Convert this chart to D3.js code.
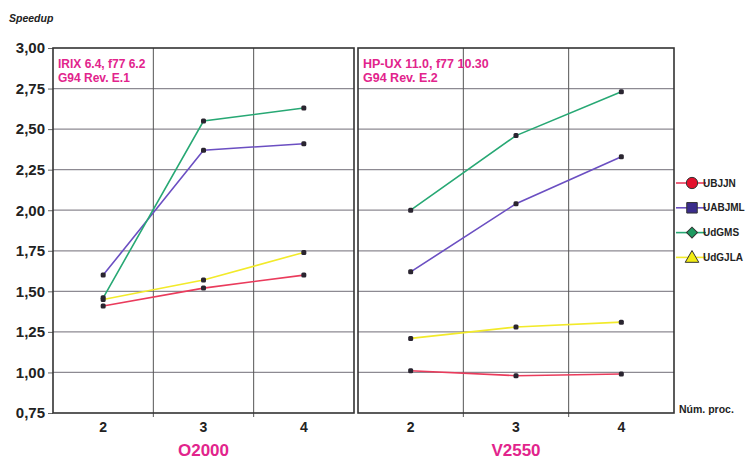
<!DOCTYPE html>
<html>
<head>
<meta charset="utf-8">
<script src="https://cdn.jsdelivr.net/npm/d3@7"></script>
<style>
  body { margin: 0; background: #fff; }
  svg { display: block; font-family: "Liberation Sans", Arial, sans-serif; }
</style>
</head>
<body>
<svg id="chart" width="747" height="459"></svg>
<script>
// ##### Data

// Number of processors (x categories)
var procs = [2, 3, 4];

// The two machines (one panel each)
var machines = ['O2000', 'V2550'];

// The series names (legend order)
var seriesNames = ['UBJJN', 'UABJML', 'UdGMS', 'UdGJLA'];

// O2000 speedups
var o2000UBJJN  = [1.41, 1.52, 1.60];
var o2000UABJML = [1.60, 2.37, 2.41];
var o2000UdGMS  = [1.46, 2.55, 2.63];
var o2000UdGJLA = [1.45, 1.57, 1.74];

// V2550 speedups
var v2550UBJJN  = [1.01, 0.98, 0.99];
var v2550UABJML = [1.62, 2.04, 2.33];
var v2550UdGMS  = [2.00, 2.46, 2.73];
var v2550UdGJLA = [1.21, 1.28, 1.31];

// Y axis tick values
var yTicks = [0.75, 1.00, 1.25, 1.50, 1.75, 2.00, 2.25, 2.50, 2.75, 3.00];

// Notes printed in the corner of each panel
var o2000Notes = ['IRIX 6.4, f77 6.2', 'G94 Rev. E.1'];
var v2550Notes = ['HP-UX 11.0, f77 10.30', 'G94 Rev. E.2'];


// ##### Styles
var lineColours = { UBJJN: '#ea3b5c', UABJML: '#6b4fc2', UdGMS: '#27a874', UdGJLA: '#f2ea2a' };
var markerFill = { UBJJN: '#e3102c', UABJML: '#3b2c8c', UdGMS: '#1d9a60', UdGJLA: '#f2ec12' };
var magenta = '#e2248c';

// Build the panels from the arrays above
var panels = [
  { name: machines[0], range: [53, 354], notes: o2000Notes, noteSize: 12,
    values: [o2000UBJJN, o2000UABJML, o2000UdGMS, o2000UdGJLA] },
  { name: machines[1], range: [358, 674], notes: v2550Notes, noteSize: 12.5,
    values: [v2550UBJJN, v2550UABJML, v2550UdGMS, v2550UdGJLA] }
];

var svg = d3.select('#chart');

// Shared y scale
var y = d3.scaleLinear().domain([0.75, 3]).range([413, 48]);

// ##### Y axis on the left
var yAxis = d3.axisLeft(y)
  .tickValues(yTicks)
  .tickSize(5)
  .tickPadding(3)
  .tickFormat(function(d) { return d3.format('.2f')(d).replace('.', ','); });

var yAxisG = svg.append('g')
  .attr('transform', 'translate(53,0)')
  .call(yAxis);
yAxisG.select('.domain').remove();
yAxisG.selectAll('line').attr('stroke', '#666');
yAxisG.selectAll('text')
  .attr('fill', '#222')
  .style('font-size', '15px')
  .style('font-weight', 'bold');

svg.append('text')
  .attr('x', 9).attr('y', 22)
  .style('font-size', '10.5px')
  .style('font-weight', 'bold')
  .style('font-style', 'italic')
  .attr('fill', '#222')
  .text('Speedup');

// ##### Draw each panel
panels.forEach(function(panel) {
  var x = d3.scaleBand().domain(procs).range(panel.range);
  var cx = function(d, i) { return x(procs[i]) + x.bandwidth() / 2; };
  var g = svg.append('g');

  // Horizontal grid lines
  g.selectAll('line.hgrid')
    .data(yTicks.slice(1, -1))
    .enter().append('line')
    .attr('class', 'hgrid')
    .attr('x1', panel.range[0]).attr('x2', panel.range[1])
    .attr('y1', y).attr('y2', y)
    .attr('stroke', '#8d8a92')
    .attr('stroke-width', 1.2);

  // Vertical grid lines between the categories
  g.selectAll('line.vgrid')
    .data(procs.slice(1))
    .enter().append('line')
    .attr('class', 'vgrid')
    .attr('x1', function(d) { return x(d); }).attr('x2', function(d) { return x(d); })
    .attr('y1', y(3)).attr('y2', y(0.75) + 4)
    .attr('stroke', '#555')
    .attr('stroke-width', 1);

  // Panel border
  g.append('rect')
    .attr('x', panel.range[0]).attr('y', y(3))
    .attr('width', panel.range[1] - panel.range[0])
    .attr('height', y(0.75) - y(3))
    .attr('fill', 'none')
    .attr('stroke', '#333')
    .attr('stroke-width', 1.6);

  // X axis labels
  var xAxis = d3.axisBottom(x).tickSize(0).tickPadding(9);
  var xAxisG = g.append('g')
    .attr('transform', 'translate(0,' + y(0.75) + ')')
    .call(xAxis);
  xAxisG.select('.domain').remove();
  xAxisG.selectAll('text')
    .attr('fill', '#222')
    .style('font-size', '14px')
    .style('font-weight', 'bold');

  // Machine name
  g.append('text')
    .attr('x', (panel.range[0] + panel.range[1]) / 2)
    .attr('y', 456)
    .attr('text-anchor', 'middle')
    .attr('fill', magenta)
    .style('font-size', '17px')
    .style('font-weight', 'bold')
    .text(panel.name);

  // Corner notes
  g.selectAll('text.note')
    .data(panel.notes)
    .enter().append('text')
    .attr('class', 'note')
    .attr('x', panel.range[0] + 5)
    .attr('y', function(d, i) { return 68 + i * 14; })
    .attr('fill', magenta)
    .style('font-size', panel.noteSize + 'px')
    .style('font-weight', 'bold')
    .text(function(d) { return d; });

  // Lines and point markers
  var line = d3.line().x(cx).y(function(d) { return y(d); });
  panel.values.forEach(function(vals, s) {
    var name = seriesNames[s];
    g.append('path')
      .datum(vals)
      .attr('d', line)
      .attr('fill', 'none')
      .attr('stroke', lineColours[name])
      .attr('stroke-width', 1.6);

    g.selectAll('rect.pt' + s)
      .data(vals)
      .enter().append('rect')
      .attr('class', 'pt' + s)
      .attr('x', function(d, i) { return cx(d, i) - 2.5; })
      .attr('y', function(d) { return y(d) - 2.5; })
      .attr('width', 5).attr('height', 5)
      .attr('rx', 1.5)
      .attr('fill', '#2a2530');
  });
});

// "Núm. proc." label
svg.append('text')
  .attr('x', 679).attr('y', 413)
  .attr('fill', '#222')
  .style('font-family', '"Liberation Sans Narrow", "Arial Narrow", sans-serif')
  .style('font-size', '10.5px')
  .style('font-weight', 'bold')
  .text('Núm. proc.');

// ##### Legend
// The diamond is a square turned by 45 degrees, as in the original
var symbolTypes = [d3.symbolCircle, d3.symbolSquare, d3.symbolSquare, d3.symbolTriangle];
var symbolSizes = [100, 110, 60, 80];
var symbolTurns = [0, 0, 45, 0];

var legend = svg.append('g')
  .selectAll('g')
  .data(seriesNames)
  .enter().append('g')
  .attr('transform', function(d, i) { return 'translate(0,' + (183 + i * 24.8) + ')'; });

legend.append('line')
  .attr('x1', 676).attr('x2', 706)
  .attr('stroke', function(d) { return lineColours[d]; })
  .attr('stroke-width', 1.6);

legend.append('path')
  .attr('transform', function(d, i) {
    return 'translate(692,' + (i === 3 ? 1 : 0) + ') rotate(' + symbolTurns[i] + ')';
  })
  .attr('d', function(d, i) { return d3.symbol().type(symbolTypes[i]).size(symbolSizes[i])(); })
  .attr('fill', function(d) { return markerFill[d]; })
  .attr('stroke', '#333')
  .attr('stroke-width', 1);

legend.append('text')
  .attr('x', 703).attr('y', 3.5)
  .attr('fill', '#222')
  .style('font-family', '"Liberation Sans Narrow", "Arial Narrow", sans-serif')
  .style('font-size', '10px')
  .style('font-weight', 'bold')
  .text(function(d) { return d; });
</script>
</body>
</html>
